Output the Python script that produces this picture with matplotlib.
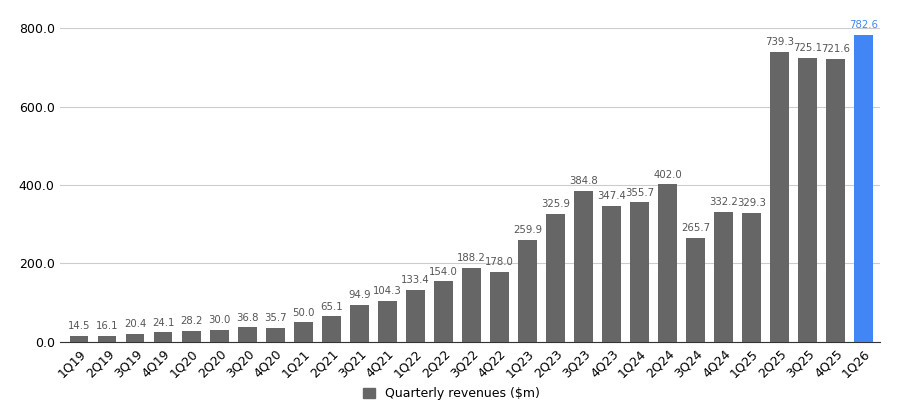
import matplotlib.pyplot as plt

quarters = ["1Q19", "2Q19", "3Q19", "4Q19", "1Q20", "2Q20", "3Q20", "4Q20",
            "1Q21", "2Q21", "3Q21", "4Q21", "1Q22", "2Q22", "3Q22", "4Q22",
            "1Q23", "2Q23", "3Q23", "4Q23", "1Q24", "2Q24", "3Q24", "4Q24",
            "1Q25", "2Q25", "3Q25", "4Q25", "1Q26"]
revenues = [14.5, 16.1, 20.4, 24.1, 28.2, 30.0, 36.8, 35.7,
            50.0, 65.1, 94.9, 104.3, 133.4, 154.0, 188.2, 178.0,
            259.9, 325.9, 384.8, 347.4, 355.7, 402.0, 265.7, 332.2,
            329.3, 739.3, 725.1, 721.6, 782.6]

gray = "#666666"
blue = "#4285F4"
colors = [gray] * (len(quarters) - 1) + [blue]

fig = plt.figure(figsize=(9.03, 4.2), dpi=100)
ax = fig.add_axes([0.066, 0.186, 0.909, 0.747])
x = range(len(quarters))
ax.bar(x, revenues, width=0.66, color=colors, zorder=3)
for xi, v, c in zip(x, revenues, colors):
    ax.text(xi, v + 12, f"{v:.1f}", ha="center", va="bottom", fontsize=7.3,
            color=blue if c == blue else "#555555")

ax.set_ylim(0, 800)
ax.set_xlim(-0.7, len(quarters) - 0.4)
ax.set_yticks([0, 200, 400, 600, 800])
ax.set_yticklabels([f"{t:.1f}" for t in [0, 200, 400, 600, 800]], fontsize=9)
ax.set_xticks(list(x))
ax.set_xticklabels(quarters, rotation=45, ha="right", rotation_mode="anchor", fontsize=9)
ax.grid(axis="y", color="#cccccc", linewidth=0.8, zorder=0)
for s in ["top", "right", "left"]:
    ax.spines[s].set_visible(False)
ax.spines["bottom"].set_color("#333333")
ax.tick_params(length=0)

h = plt.Rectangle((0, 0), 1, 1, color=gray)
fig.legend([h], ["Quarterly revenues ($m)"], loc="lower center",
           bbox_to_anchor=(0.5, 0.02), frameon=False, fontsize=9,
           handlelength=0.9, handleheight=0.9)

fig.savefig("out.png", dpi=100)
